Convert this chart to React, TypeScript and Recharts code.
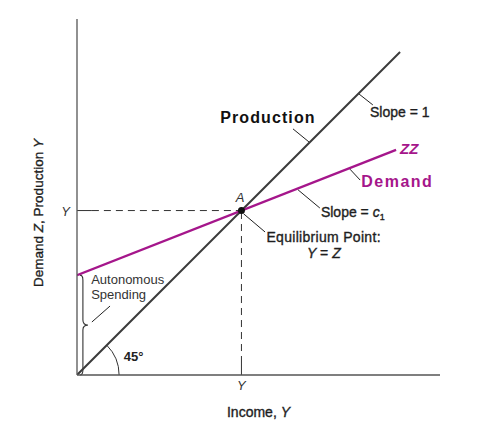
import React from 'react';
import {
  ComposedChart,
  Line,
  XAxis,
  YAxis,
  ReferenceLine,
  ReferenceDot,
  ReferenceArea,
} from 'recharts';

// ---- data (arbitrary units) ----
const productionLine = [
  { x: 0, y: 0 },
  { x: 89, y: 89 },
];
const demandLine = [
  { x: 0, y: 27.5 },
  { x: 87.9, y: 62 },
];
const equilibriumX = 45.3;
const equilibriumY = 45.3;
const autonomousSpending = 27.5;
const xDomain = [0, 100];
const yDomain = [0, 98.07];
const xTicks = [equilibriumX];
const yTicks = [equilibriumY];

const FONT = '"Liberation Sans", Arial, Helvetica, sans-serif';
const BLACK = '#3b3b3b';
const MAGENTA = '#a5168b';
const TEXT = '#1e1e1e';

const note = (
  key: string,
  x: number,
  y: number,
  content: React.ReactNode,
  anchor: 'start' | 'middle' | 'end',
  style: React.CSSProperties
) => (
  <ReferenceDot
    key={key}
    x={x}
    y={y}
    r={0}
    ifOverflow="visible"
    shape={(p: any) => (
      <text x={p.cx} y={p.cy} textAnchor={anchor} style={{ fontFamily: FONT, ...style }}>
        {content}
      </text>
    )}
  />
);

const leader = (key: string, x1: number, y1: number, x2: number, y2: number) => (
  <ReferenceLine
    key={key}
    segment={[
      { x: x1, y: y1 },
      { x: x2, y: y2 },
    ]}
    stroke="#222"
    strokeWidth={1}
    ifOverflow="visible"
  />
);

const BraceShape = (p: any) => {
  const { x, y, width, height } = p;
  const vx = x + 3;
  const mid = y + height / 2;
  const b = y + height;
  const d = `M ${x} ${y} Q ${vx} ${y} ${vx} ${y + 5} L ${vx} ${mid - 5} Q ${vx} ${mid} ${x + width} ${mid} Q ${vx} ${mid} ${vx} ${mid + 5} L ${vx} ${b - 5} Q ${vx} ${b} ${x} ${b}`;
  return <path d={d} fill="none" stroke="#333" strokeWidth={1.1} />;
};

const ArcShape = (p: any) => {
  const { x, y, width, height } = p;
  const cx = x;
  const cy = y + height;
  const r = width;
  const ex = cx + r * Math.cos(Math.PI / 4);
  const ey = cy - r * Math.sin(Math.PI / 4);
  return <path d={`M ${cx + r} ${cy} A ${r} ${r} 0 0 0 ${ex} ${ey}`} fill="none" stroke="#333" strokeWidth={1} />;
};

const XTick = (p: any) => (
  <text x={p.x} y={p.y + 15} textAnchor="middle" style={{ fontFamily: FONT, fontSize: 13, fontStyle: 'italic', fill: '#333' }}>
    Y
  </text>
);
const YTick = (p: any) => (
  <text x={p.x - 7} y={p.y + 5} textAnchor="end" style={{ fontFamily: FONT, fontSize: 13, fontStyle: 'italic', fill: '#333' }}>
    Y
  </text>
);

const SEMI = { stroke: TEXT, strokeWidth: 0.35 };

export default function App() {
  return (
    <div style={{ position: 'absolute', left: 0, top: 0, background: '#fff' }}>
      <ComposedChart
        width={481}
        height={442}
        margin={{ top: 19, right: 41, bottom: 17, left: 27 }}
      >
        <XAxis
          type="number"
          dataKey="x"
          domain={xDomain}
          ticks={xTicks}
          tick={XTick}
          tickLine={false}
          tickSize={0}
          tickMargin={0}
          height={50}
          axisLine={{ stroke: '#555', strokeWidth: 1.3 }}
          allowDataOverflow
          label={{
            content: (p: any) => (
              <text
                x={p.viewBox.x + p.viewBox.width / 2}
                y={417}
                textAnchor="middle"
                style={{ fontFamily: FONT, fontSize: 14, fill: TEXT, ...SEMI }}
              >
                Income, <tspan fontStyle="italic">Y</tspan>
              </text>
            ),
          }}
        />
        <YAxis
          type="number"
          dataKey="y"
          domain={yDomain}
          ticks={yTicks}
          tick={YTick}
          tickLine={false}
          tickSize={0}
          tickMargin={0}
          width={50}
          axisLine={{ stroke: '#555', strokeWidth: 1.3 }}
          allowDataOverflow
          label={{
            content: () => (
              <text
                x={43}
                y={213}
                transform="rotate(-90 43 213)"
                textAnchor="middle"
                style={{ fontFamily: FONT, fontSize: 13.5, fill: TEXT, ...SEMI }}
              >
                Demand <tspan fontStyle="italic">Z</tspan>, Production <tspan fontStyle="italic">Y</tspan>
              </text>
            ),
          }}
        />

        {/* dashed guides to equilibrium */}
        <ReferenceLine segment={[{ x: 0, y: equilibriumY }, { x: 4.1, y: equilibriumY }]} stroke="#333" strokeWidth={1} />
        <ReferenceLine segment={[{ x: 4.1, y: equilibriumY }, { x: equilibriumX, y: equilibriumY }]} stroke="#333" strokeWidth={1} strokeDasharray="7 5" />
        <ReferenceLine segment={[{ x: equilibriumX, y: 0 }, { x: equilibriumX, y: 3.3 }]} stroke="#333" strokeWidth={1} />
        <ReferenceLine segment={[{ x: equilibriumX, y: 3.3 }, { x: equilibriumX, y: equilibriumY }]} stroke="#333" strokeWidth={1} strokeDasharray="7 5" />

        {/* brace and 45 degree arc */}
        <ReferenceArea x1={0.8} x2={3.0} y1={0} y2={autonomousSpending} shape={BraceShape} ifOverflow="visible" />
        <ReferenceArea x1={0} x2={11.6} y1={0} y2={11.6} shape={ArcShape} ifOverflow="visible" />

        <Line data={productionLine} dataKey="y" type="linear" stroke={BLACK} strokeWidth={2} dot={false} isAnimationActive={false} />
        <Line data={demandLine} dataKey="y" type="linear" stroke={MAGENTA} strokeWidth={2.4} dot={false} isAnimationActive={false} />

        <ReferenceDot x={equilibriumX} y={equilibriumY} r={3.5} fill="#111" stroke="none" />

        {leader('l1', 59.5, 67.8, 63.9, 64.2)}
        {leader('l2', 77.7, 77.4, 81.5, 74.4)}
        {leader('l3', 75.2, 56.7, 78.0, 53.7)}
        {leader('l4', 60.9, 51.0, 66.9, 46.0)}
        {leader('l5', 45.9, 44.4, 51.8, 39.4)}
        {leader('l6', 4.1, 14.6, 9.1, 19.0)}

        {note('n1', 52.6, 69.4, 'Production', 'middle', { fontSize: 16, fontWeight: 'bold', fill: '#111', letterSpacing: 1.1 })}
        {note('n2', 80.7, 71.1, 'Slope = 1', 'start', { fontSize: 14, fill: TEXT, ...SEMI })}
        {note('n3', 89, 60.9, 'ZZ', 'start', { fontSize: 15, fontWeight: 'bold', fontStyle: 'italic', fill: MAGENTA })}
        {note('n4', 78.3, 51.8, 'Demand', 'start', { fontSize: 16, fontWeight: 'bold', fill: MAGENTA, letterSpacing: 1.5 })}
        {note(
          'n5',
          67.2,
          43.5,
          <>
            Slope = <tspan fontStyle="italic">c</tspan>
            <tspan fontSize={9} dy={3}>1</tspan>
          </>,
          'start',
          { fontSize: 14, fill: TEXT, ...SEMI }
        )}
        {note('n6', 52.2, 36.6, 'Equilibrium Point:', 'start', { fontSize: 14, fill: TEXT, letterSpacing: 0.3, ...SEMI })}
        {note(
          'n7',
          68.0,
          32.2,
          <>
            <tspan fontStyle="italic">Y</tspan> = <tspan fontStyle="italic">Z</tspan>
          </>,
          'middle',
          { fontSize: 14, fill: TEXT, ...SEMI }
        )}
        {note('n8', 44.9, 47.6, 'A', 'middle', { fontSize: 13, fontStyle: 'italic', fill: '#333' })}
        {note('n9', 3.9, 25.1, 'Autonomous', 'start', { fontSize: 13, fill: '#333' })}
        {note('n10', 3.9, 21.0, 'Spending', 'start', { fontSize: 13, fill: '#333' })}
        {note('n11', 12.9, 3.9, '45°', 'start', { fontSize: 13, fontWeight: 'bold', fill: '#222' })}
      </ComposedChart>
    </div>
  );
}
